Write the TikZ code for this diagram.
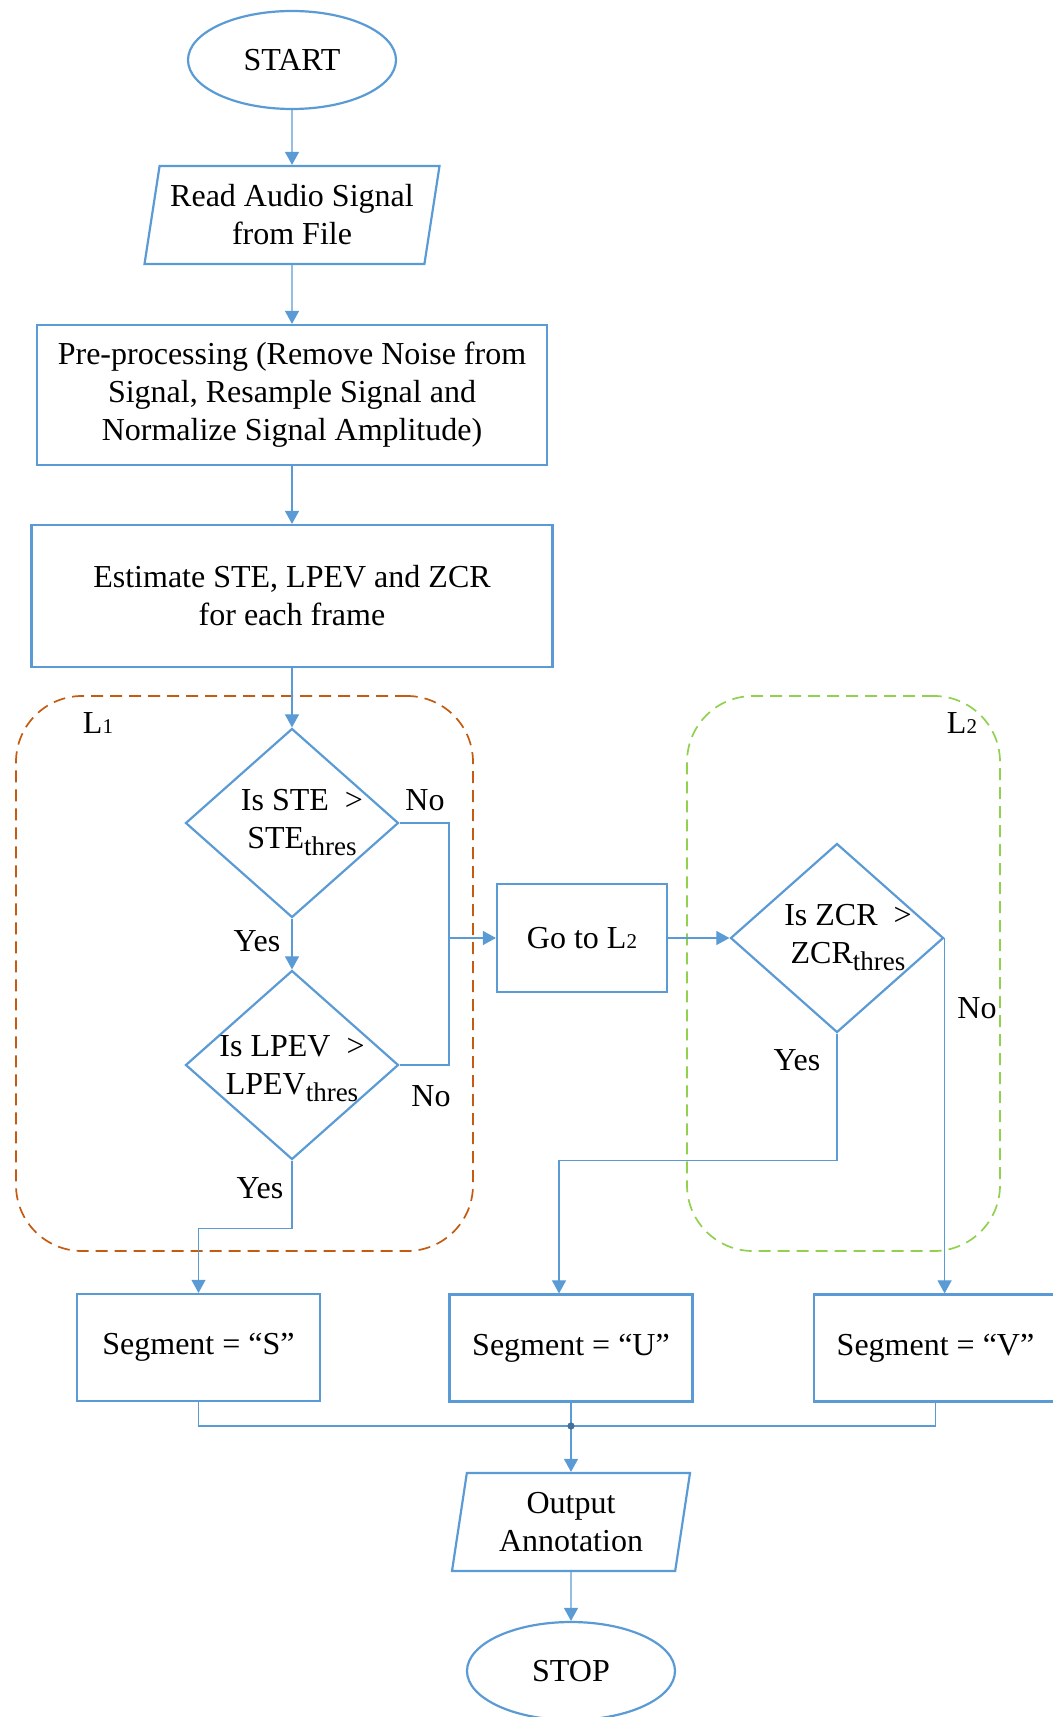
\documentclass[tikz,border=0pt]{standalone}
\usepackage{fontspec}
\setmainfont{Liberation Serif}
\usetikzlibrary{shapes.geometric,arrows.meta}
\definecolor{flowblue}{HTML}{5B9BD5}
\definecolor{dotblue}{HTML}{41719C}
\definecolor{loopone}{HTML}{C55A11}
\definecolor{looptwo}{HTML}{92D050}
\newcommand\thresidx{\raisebox{-3.5pt}{\fontsize{13.5}{13.5}\selectfont thres}}
\newcommand\loopidx[1]{{\fontsize{10.5}{10.5}\selectfont #1}}

\begin{document}
\begin{tikzpicture}[x=0.5pt, y=-0.5pt, >={Triangle[length=6.5pt,width=7pt]},
    every node/.style={font=\fontsize{16}{19}\selectfont},
    terminal/.style={ellipse,draw=flowblue,line width=1.1pt,minimum width=104pt,minimum height=49pt,inner sep=0pt},
    io/.style={trapezium,trapezium left angle=76,trapezium right angle=104,trapezium stretches body,draw=flowblue,line width=1.1pt,minimum height=49pt,align=center,inner sep=0pt},
    process/.style={rectangle,draw=flowblue,line width=1.1pt,align=center,inner sep=0pt},
    decision/.style={diamond,draw=flowblue,line width=1.1pt,minimum width=106.5pt,minimum height=94.5pt,inner sep=0pt},
    segbox/.style={process,minimum width=121.5pt,minimum height=53.5pt},
    group/.style={rectangle,rounded corners=33pt,dash pattern=on 6pt off 3.5pt,line width=0.85pt},
    link/.style={draw=flowblue,line width=0.55pt},
    answer/.style={inner sep=0pt}]
    \useasboundingbox (0,0) rectangle (1053,1717);

    % the two loops
    \node[group,draw=loopone,minimum width=228.5pt,minimum height=277.5pt] (loopOne) at (244.5,973.5) {};
    \node[group,draw=looptwo,minimum width=156.5pt,minimum height=277.5pt] (loopTwo) at (843.5,973.5) {};
    \node[answer] (nameOne) at (98,723) {L\loopidx{1}};
    \node[answer] (nameTwo) at (962,723) {L\loopidx{2}};

    % main column
    \node[terminal] (start) at (292,60) {START};
    \node[io,minimum width=147.5pt] (read) at (292,215) {Read Audio Signal\\from File};
    \node[process,minimum width=255pt,minimum height=70pt] (pre) at (292,395) {Pre-processing (Remove Noise from\\Signal, Resample Signal and\\Normalize Signal Amplitude)};
    \node[process,minimum width=260.5pt,minimum height=71pt] (est) at (292,596) {Estimate STE, LPEV and ZCR\\for each frame};

    % tests
    \node[decision] (ste) at (292,823) {};
    \node[align=center,inner sep=0pt] (steText) at (302,823) {Is STE~~>\\STE\thresidx};
    \node[decision] (lpev) at (292,1065) {};
    \node[align=center,inner sep=0pt] (lpevText) at (292,1069) {Is LPEV~~>\\LPEV\thresidx};
    \node[process,minimum width=85pt,minimum height=54pt] (goto) at (582,938) {Go to L\loopidx{2}};
    \node[decision] (zcr) at (837,938) {};
    \node[align=center,inner sep=0pt] (zcrText) at (848,938) {Is ZCR~~>\\ZCR\thresidx};

    % results
    \node[segbox] (segS) at (198.5,1347.5) {Segment = “S”};
    \node[segbox] (segU) at (571,1348) {Segment = “U”};
    \node[segbox] (segV) at (935.5,1348) {Segment = “V”};
    \node[io,minimum width=119pt] (out) at (571,1522) {Output\\Annotation};
    \node[terminal] (stop) at (571,1671) {STOP};

    % answers
    \node[answer] (steYes) at (257,941) {Yes};
    \node[answer] (steNo) at (425,800) {No};
    \node[answer] (lpevYes) at (260,1188) {Yes};
    \node[answer] (lpevNo) at (431,1096) {No};
    \node[answer] (zcrYes) at (797,1060) {Yes};
    \node[answer] (zcrNo) at (977,1008) {No};

    % connectors
    \draw[link,->] (start) -- (read);
    \draw[link,->] (read) -- (pre);
    \draw[link,->] (pre) -- (est);
    \draw[link,->] (est) -- (ste);
    \draw[link,->] (ste) -- (lpev);
    \coordinate (noJoin) at (449,938);
    \draw[link] (ste.east) -| (noJoin);
    \draw[link] (lpev.east) -| (noJoin);
    \draw[link,->] (noJoin) -- (goto.west);
    \draw[link,->] (goto.east) -- (zcr.west);
    \draw[link,->] (lpev.south) -- ++(0,68) -| (segS.north);
    \draw[link,->] (zcr.south) -- ++(0,127) -| ([xshift=-6pt]segU.north);
    \draw[link,->] (zcr.east) -- (zcr.east |- segV.north);
    \coordinate (merge) at (571,1426);
    \draw[link] (segS.south) |- (merge) -| (segV.south);
    \draw[link] (segU.south) -- (merge);
    \draw[link,->] (merge) -- (out);
    \draw[link,->] (out) -- (stop);
    \fill[dotblue] (merge) circle (1.8pt);
\end{tikzpicture}
\end{document}
